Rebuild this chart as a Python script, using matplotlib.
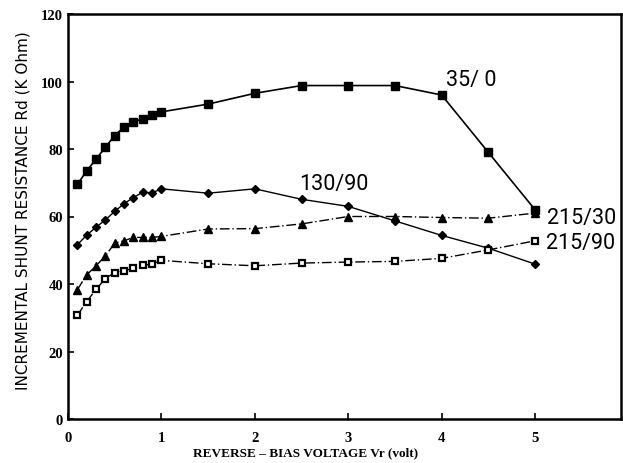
import matplotlib.pyplot as plt

# reverse-bias voltage (volt)
vr = [0.1, 0.2, 0.3, 0.4, 0.5, 0.6, 0.7, 0.8, 0.9, 1.0,
      1.5, 2.0, 2.5, 3.0, 3.5, 4.0, 4.5, 5.0]

# incremental shunt resistance Rd (K Ohm)
rd_35_0 = [69.5, 73.5, 77.0, 80.5, 84.0, 86.5, 88.0, 89.0, 90.0, 91.0,
           93.3, 96.5, 98.8, 98.8, 98.8, 96.0, 79.0, 62.0]
rd_130_90 = [51.6, 54.5, 56.8, 59.0, 61.5, 63.8, 65.6, 67.2, 67.0, 68.2,
             66.9, 68.2, 65.1, 63.0, 58.7, 54.4, 50.6, 45.9]
rd_215_30 = [38.3, 42.7, 45.4, 48.3, 52.1, 52.8, 53.8, 53.8, 53.8, 54.1,
             56.3, 56.4, 57.8, 60.0, 60.0, 59.7, 59.5, 61.0]
rd_215_90 = [30.7, 34.8, 38.4, 41.6, 43.4, 43.9, 44.7, 45.5, 45.9, 47.0,
             46.0, 45.4, 46.2, 46.5, 46.7, 47.6, 50.1, 52.8]

labels = ["35/ 0", "130/90", "215/30", "215/90"]
label_pos = [(4.05, 100.6), (2.48, 69.8), (5.13, 59.8), (5.12, 52.4)]

serif = ["Liberation Serif", "DejaVu Serif"]


def main():
    fig = plt.figure(figsize=(6.23, 4.64), dpi=100)
    ax = fig.add_axes([68 / 623, 44 / 464, 553 / 623, 405 / 464])

    ax.plot(vr, rd_35_0, color="black", lw=1.2, marker="s", ms=5.5)
    ax.plot(vr, rd_130_90, color="black", lw=1.0, marker="D", ms=4)
    ax.plot(vr, rd_215_30, color="black", lw=1.0, ls=(0, (7, 2, 1, 2)),
            marker="^", ms=5.5)
    ax.plot(vr, rd_215_90, color="black", lw=1.0, ls=(0, (7, 2, 1, 2)),
            marker="s", ms=5, mfc="white", mec="black", mew=1.6)

    for text, (x, y) in zip(labels, label_pos):
        ax.text(x, y, text, fontsize=15.5, va="center", ha="left",
                family=["Roboto", "DejaVu Sans"])

    ax.set_xlim(0, 5.92)
    ax.set_ylim(0, 120)
    ax.set_xticks([0, 1, 2, 3, 4, 5])
    ax.set_yticks([0, 20, 40, 60, 80, 100, 120])
    ax.tick_params(direction="in", length=4, width=1.2, labelsize=10.5)
    ax.tick_params(axis="x", pad=9)
    for lab in ax.get_xticklabels() + ax.get_yticklabels():
        lab.set_family(serif)
        lab.set_fontweight("bold")
    for sp in ax.spines.values():
        sp.set_linewidth(1.8)

    ax.set_xlabel("REVERSE – BIAS VOLTAGE Vr (volt)", family=serif,
                  fontsize=9.5, fontweight="bold")
    ax.xaxis.set_label_coords(0.43, -0.068)
    ax.set_ylabel("INCREMENTAL SHUNT RESISTANCE Rd (K Ohm)",
                  family="DejaVu Sans", fontsize=11)
    ax.yaxis.set_label_coords(-0.067, 0.516)

    fig.savefig("out.png", dpi=100)


if __name__ == "__main__":
    main()
